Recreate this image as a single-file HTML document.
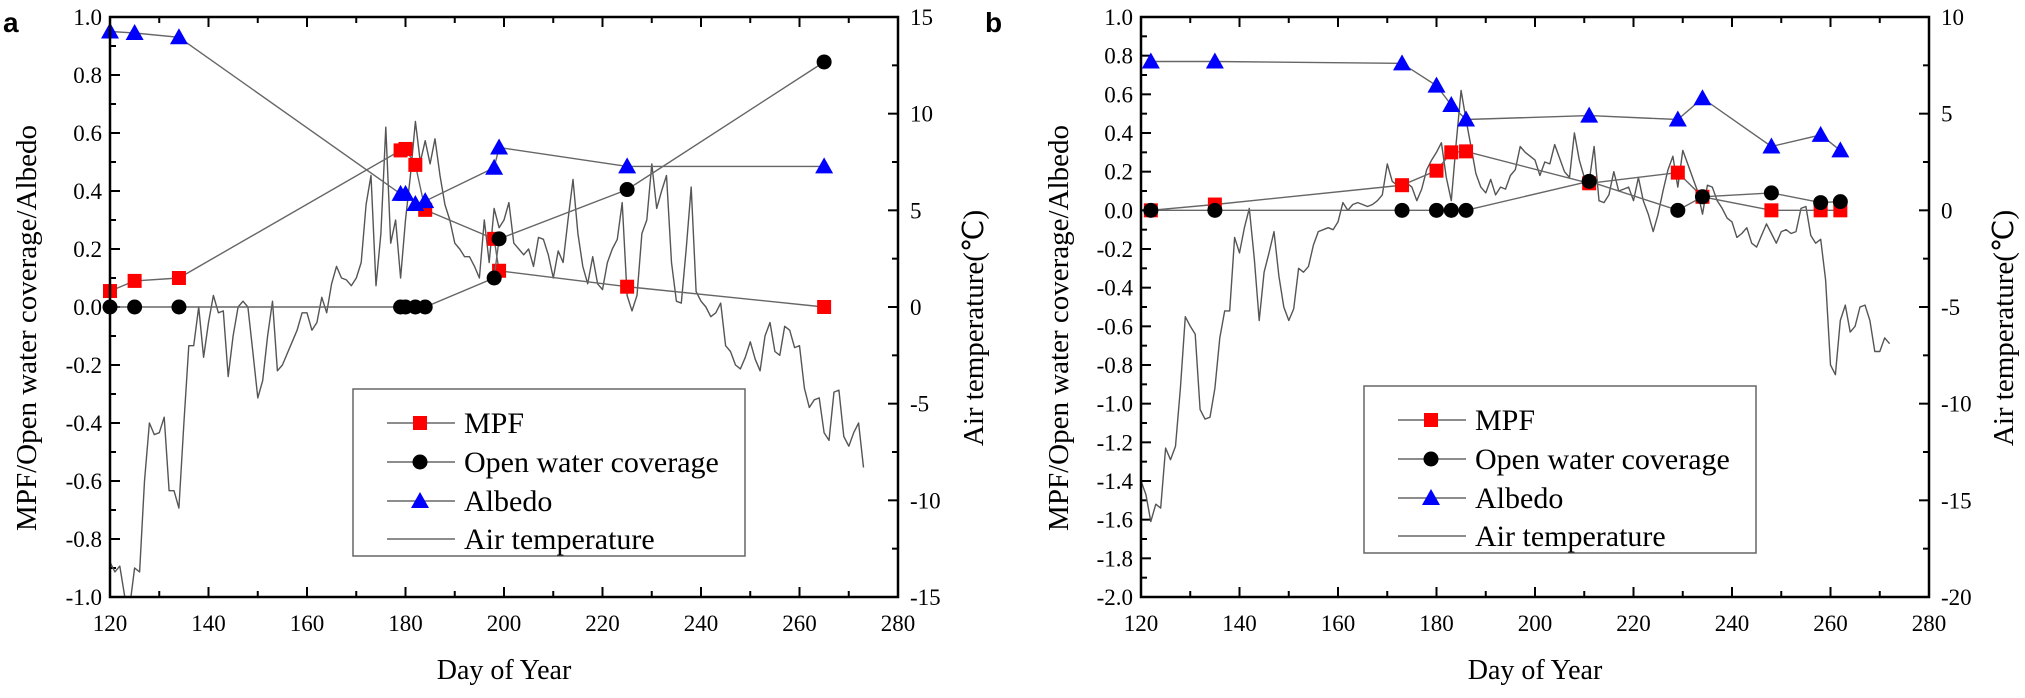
<!DOCTYPE html>
<html><head><meta charset="utf-8">
<style>
html,body{margin:0;padding:0;background:#fff;}
svg{display:block;}
svg text{font-family:"Liberation Serif","Times New Roman",serif;}
svg text.sans{font-family:"Liberation Sans",Arial,sans-serif;}
</style></head>
<body>
<svg id="chart" width="2025" height="698" viewBox="0 0 2025 698" xmlns="http://www.w3.org/2000/svg" font-family="Liberation Serif, serif"></svg>
<script>
// ---------- Panel a data ----------
const aMpfDays = [120,125,134,179,180,182,184,198,199,225,265];
const aMpfVals = [0.055,0.09,0.10,0.54,0.545,0.49,0.335,0.235,0.125,0.07,0.0];
const aOwcDays = [120,125,134,179,180,182,184,198,199,225,265];
const aOwcVals = [0,0,0,0,0,0,0,0.10,0.235,0.405,0.845];
const aAlbDays = [120,125,134,179,180,182,184,198,199,225,265];
const aAlbVals = [0.95,0.945,0.93,0.39,0.39,0.355,0.365,0.48,0.55,0.485,0.485];
const aTempStart = 120;
const aTemp = [-13.2,-13.7,-13.4,-15,-15.5,-13.5,-13.7,-9,-6,-6.6,-6.5,-5.7,-9.5,-9.5,-10.4,-6,-2,-2,0,-2.6,
 -0.8,0.6,-0.3,-0.2,-3.6,-1.5,0,0.3,0,-2.3,-4.7,-3.8,-1.5,0.3,-3.3,-3,-2.4,-1.8,-1.2,-0.3,
 -0.3,-1.2,-0.8,0.5,-0.3,1.2,2.1,1.5,1.4,1.1,1.5,2.3,5.3,6.8,1.1,3.8,9.3,3.3,4.5,1.5,
 4.5,6.8,9.6,7.5,8.6,7.4,8.7,6.8,5.3,4.5,3.3,3,2.6,2.6,2.1,1.5,4.5,2.3,5.1,4.1,
 4.5,5.4,3.3,3,2.7,3,2.1,3.6,3.5,2.7,1.5,2.9,2.3,4.5,6.6,3.8,2.1,1.2,2.6,1.2,
 0.9,2.3,3,3.5,5.4,0.6,-0.2,0.6,3.8,4.5,7.4,5.1,6,6.8,2.3,0.3,0.2,3,6.2,0.8,
 0.3,0,-0.5,-0.3,0.2,-2,-2.3,-3,-3.2,-2.6,-1.8,-2.7,-3.3,-1.5,-0.8,-2.3,-2.5,-1,-1.2,-2.1,
 -2,-4.2,-5.2,-4.8,-4.7,-6.5,-6.9,-4.4,-4.3,-6.7,-7.2,-6.5,-6,-8.3];
const aYTicks = ["-1.0","-0.8","-0.6","-0.4","-0.2","0.0","0.2","0.4","0.6","0.8","1.0"];
const aRTicks = ["-15","-10","-5","0","5","10","15"];

// ---------- Panel b data ----------
const bMpfDays = [122,135,173,180,183,186,211,229,234,248,258,262];
const bMpfVals = [0.0,0.03,0.13,0.205,0.30,0.305,0.14,0.195,0.07,0.0,0.0,0.0];
const bOwcDays = [122,135,173,180,183,186,211,229,234,248,258,262];
const bOwcVals = [0,0,0,0,0,0,0.15,0,0.07,0.09,0.04,0.045];
const bAlbDays = [122,135,173,180,183,186,211,229,234,248,258,262];
const bAlbVals = [0.77,0.77,0.76,0.645,0.545,0.47,0.49,0.47,0.58,0.33,0.39,0.31];
const bTempStart = 120;
const bTemp = [-14,-14.7,-16.1,-15.2,-15.4,-12.3,-12.9,-12.2,-9.2,-5.5,-6,-6.4,-10.3,-10.8,-10.7,-9.2,-6.6,-5.2,-5.2,-1.4,
 -2.2,-0.9,0.1,-2.5,-5.7,-3.2,-2.2,-1.1,-3.4,-5,-5.7,-5.1,-3,-3.2,-2.9,-1.8,-1.1,-1,-0.9,-1,
 -0.6,0.4,0,0.3,0.4,0.3,0.2,0.3,0.5,0.8,2.4,1.5,1.3,1.5,1.4,1.2,0.5,1.1,2.1,2.6,
 3,3.5,1.7,0.5,3.5,6.2,4.7,3.3,1.9,1.2,0.9,1.6,0.8,1.2,1.1,1.8,2.1,3.3,3,2.8,
 2.6,1.8,2.5,2.4,3.4,2.7,2,1.7,4,2.6,1.7,1.5,3.3,0.5,0.4,0.8,2,1,1.1,1.2,
 0.5,1.7,0.5,-0.2,-1.1,-0.2,1,2.1,2.8,1.2,3.1,2.4,1.7,1,-0.2,1.3,1.2,0.5,0.1,-0.4,
 -0.6,-1.4,-1.2,-0.9,-1.7,-1.9,-1.3,-0.7,-1.2,-1.7,-1.1,-1,-1.2,-1.1,0.1,0.2,-1.3,-1.7,-1.5,-3.6,
 -8,-8.5,-5.7,-4.9,-6.3,-6,-5,-4.9,-5.7,-7.3,-7.3,-6.6,-6.9];
const bYTicks = ["-2.0","-1.8","-1.6","-1.4","-1.2","-1.0","-0.8","-0.6","-0.4","-0.2","0.0","0.2","0.4","0.6","0.8","1.0"];
const bRTicks = ["-20","-15","-10","-5","0","5","10"];
const xTicks = ["120","140","160","180","200","220","240","260","280"];
const legendLabels = ["MPF","Open water coverage","Albedo","Air temperature"];

const NS = "http://www.w3.org/2000/svg";
const svg = document.getElementById('chart');
const SERIF = 'Liberation Serif, Times New Roman, serif';
function mk(tag, attrs, parent){
  const e = document.createElementNS(NS, tag);
  for (const k in attrs) e.setAttribute(k, attrs[k]);
  if (tag === 'text' && !e.hasAttribute('font-family')) e.setAttribute('font-family', SERIF);
  (parent||svg).appendChild(e);
  return e;
}
const defs = mk('defs', {});

function panel(cfg){
  const g = mk('g', {});
  
  
  const L = cfg.left, R = cfg.right, T = 17, B = 597;
  const xS = d => L + (d - 120) / 160 * (R - L);
  const yS = v => B - (v - cfg.yMin) / (cfg.yMax - cfg.yMin) * (B - T);
  const tS = t => B - (t - cfg.tMin) / (cfg.tMax - cfg.tMin) * (B - T);

  const cp = mk('clipPath', {id:'clip-' + cfg.id}, defs);
  mk('rect', {x:L, y:T, width:R-L, height:B-T}, cp);

  // x ticks
  for (let d = 120; d <= 280; d += 10) {
    const x = xS(d), len = (d % 20 === 0) ? 10 : 6;
    mk('line', {x1:x, y1:B, x2:x, y2:B-len, stroke:'#000','stroke-width':2}, g);
    mk('line', {x1:x, y1:T, x2:x, y2:T+len, stroke:'#000','stroke-width':2}, g);
  }
  xTicks.forEach((lab) => {
    const t = mk('text', {x:xS(+lab), y:631, 'font-size':23, 'text-anchor':'middle', fill:'#000'}, g);
    
    
    t.textContent = lab;
  });
  const nMinor = Math.round((cfg.yMax - cfg.yMin) / 0.1);
  for (let i = 0; i <= nMinor; i++) {
    const v = cfg.yMin + i * 0.1, y = yS(v), len = (i % 2 === 0) ? 10 : 6;
    mk('line', {x1:L, y1:y, x2:L+len, y2:y, stroke:'#000','stroke-width':2}, g);
  }
  cfg.yTicks.forEach((lab) => {
    const t = mk('text', {x:L-8, y:yS(parseFloat(lab))+8, 'font-size':23, 'text-anchor':'end', fill:'#000'}, g);
    
    
    t.textContent = lab;
  });
  const nR = Math.round((cfg.tMax - cfg.tMin) / 2.5);
  for (let i = 0; i <= nR; i++) {
    const v = cfg.tMin + i * 2.5, y = tS(v), len = (i % 2 === 0) ? 10 : 6;
    mk('line', {x1:R, y1:y, x2:R-len, y2:y, stroke:'#000','stroke-width':2}, g);
  }
  cfg.rTicks.forEach((lab) => {
    const t = mk('text', {x:R+12, y:tS(parseFloat(lab))+8, 'font-size':23, 'text-anchor':'start', fill:'#000'}, g);
    
    
    t.textContent = lab;
  });

  // air temperature
  const tp = cfg.temp.map((v,i) => xS(cfg.tStart + i).toFixed(1) + ',' + tS(v).toFixed(1)).join(' ');
  const tl = mk('polyline', {points:tp, fill:'none', stroke:'#555', 'stroke-width':1.4, 'stroke-linejoin':'round', 'clip-path':'url(#clip-' + cfg.id + ')'}, g);
  
  

  function series(days, vals, kind, name){
    const pts = days.map((d,i) => [xS(d), yS(vals[i])]);
    const pl = mk('polyline', {points: pts.map(p => p[0].toFixed(1)+','+p[1].toFixed(1)).join(' '), fill:'none', stroke:'#666', 'stroke-width':1.4}, g);
    
    
    pts.forEach(p => marker(p[0], p[1], kind, name + '-point', g));
  }
  series(cfg.mpfD, cfg.mpfV, 'sq', 'mpf');
  series(cfg.owcD, cfg.owcV, 'ci', 'open-water');
  series(cfg.albD, cfg.albV, 'tr', 'albedo');

  // frame on top
  const frame = mk('rect', {x:L, y:T, width:R-L, height:B-T, fill:'none', stroke:'#000', 'stroke-width':2.5}, g);
  
  

  // legend
  const lg = mk('g', {}, g);
  
  
  const lx = cfg.legX, ly = cfg.legY;
  mk('rect', {x:lx, y:ly, width:392, height:167, fill:'#fff', stroke:'#666', 'stroke-width':1.5}, lg);
  const kinds = ['sq','ci','tr',null];
  const ys = [34, 73, 112, 150];
  legendLabels.forEach((lab, i) => {
    const y = ly + ys[i];
    mk('line', {x1:lx+34, y1:y, x2:lx+102, y2:y, stroke:'#666','stroke-width':1.4}, lg);
    if (kinds[i]) marker(lx+67, y, kinds[i], 'legend-marker', lg);
    const t = mk('text', {x:lx+111, y:y+10, 'font-size':30, fill:'#000'}, lg);
    
    
    t.textContent = lab;
  });

  const xt = mk('text', {x:(L+R)/2, y:679, 'font-size':28, 'text-anchor':'middle'}, g);
  
  
  xt.textContent = 'Day of Year';
  const yt = mk('text', {x:0, y:0, 'font-size':29, 'text-anchor':'middle', transform:'translate('+(cfg.ytX)+',328) rotate(-90)'}, g);
  
  
  yt.textContent = 'MPF/Open water coverage/Albedo';
  const rt = mk('text', {x:0, y:0, 'font-size':29, 'text-anchor':'middle', transform:'translate('+(cfg.rtX)+',328) rotate(-90)'}, g);
  
  
  rt.textContent = 'Air temperature(\u2103)';
  const pl = mk('text', {x:cfg.lblX, y:32, 'font-size':28, 'font-weight':'bold', 'font-family':'Liberation Sans, Arial, sans-serif', 'class':'sans'}, g);
  
  
  pl.textContent = cfg.label;
}

function marker(x, y, kind, name, parent){
  let e;
  if (kind === 'sq') e = mk('rect', {x:x-7, y:y-7, width:14, height:14, fill:'#f00'}, parent);
  else if (kind === 'ci') e = mk('circle', {cx:x, cy:y, r:7.5, fill:'#000'}, parent);
  else e = mk('polygon', {points:(x)+','+(y-9)+' '+(x-9)+','+(y+7)+' '+(x+9)+','+(y+7), fill:'#00f'}, parent);
  
  
}

panel({id:'panel-a', label:'a', lblX:3, left:110, right:898, yMin:-1, yMax:1, tMin:-15, tMax:15,
  yTicks:aYTicks, rTicks:aRTicks, temp:aTemp, tStart:aTempStart,
  mpfD:aMpfDays, mpfV:aMpfVals, owcD:aOwcDays, owcV:aOwcVals, albD:aAlbDays, albV:aAlbVals,
  legX:353, legY:389, ytX:36, rtX:983});
panel({id:'panel-b', label:'b', lblX:985, left:1141, right:1929, yMin:-2, yMax:1, tMin:-20, tMax:10,
  yTicks:bYTicks, rTicks:bRTicks, temp:bTemp, tStart:bTempStart,
  mpfD:bMpfDays, mpfV:bMpfVals, owcD:bOwcDays, owcV:bOwcVals, albD:bAlbDays, albV:bAlbVals,
  legX:1364, legY:386, ytX:1068, rtX:2013});
</script>
</body></html>
